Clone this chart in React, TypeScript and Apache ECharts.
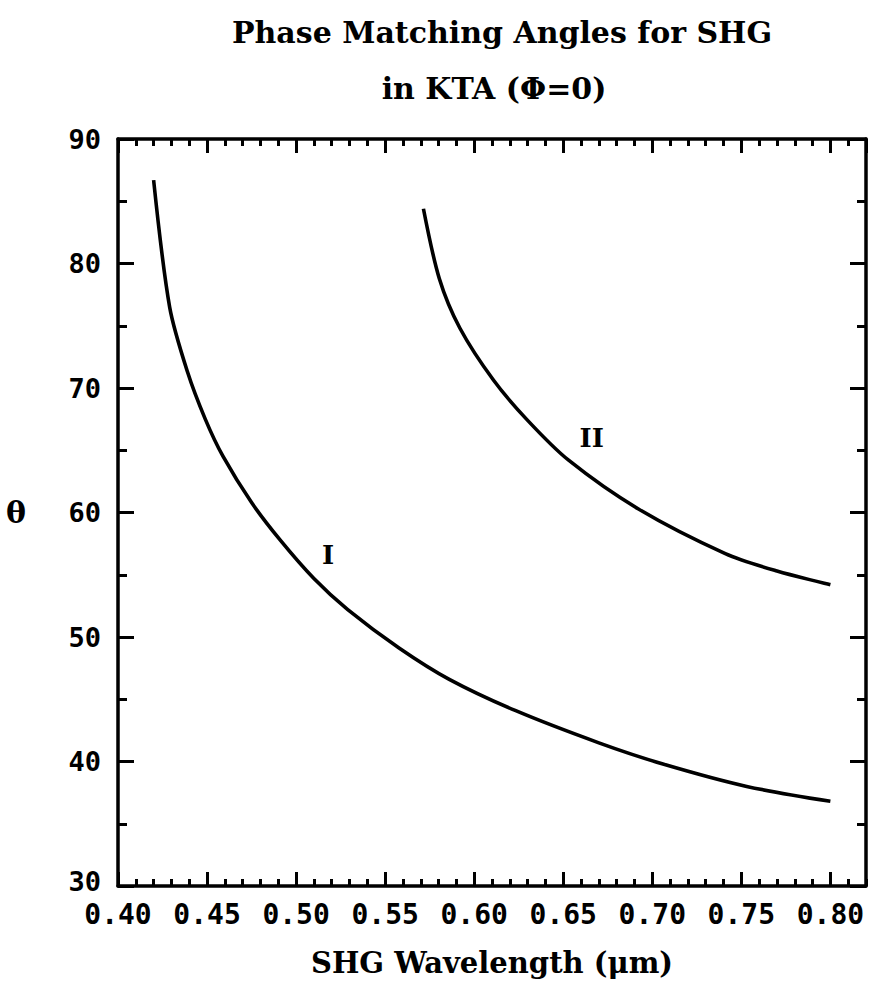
import React, { useEffect, useRef } from "react";
import * as echarts from "echarts";

// Type I phase-matching curve: SHG wavelength (µm) vs θ (deg)
const wavelengthI = [0.420, 0.429, 0.439, 0.449, 0.459, 0.475, 0.491, 0.510, 0.529, 0.558, 0.586, 0.623, 0.670, 0.706, 0.753, 0.800];
const thetaI = [86.7, 76.5, 71.3, 67.5, 64.5, 60.8, 57.8, 54.7, 52.2, 49.1, 46.6, 44.1, 41.5, 39.8, 38.0, 36.8];

// Type II phase-matching curve
const wavelengthII = [0.5715, 0.5804, 0.592, 0.611, 0.630, 0.653, 0.692, 0.741, 0.770, 0.800];
const thetaII = [84.4, 78.8, 74.8, 70.6, 67.4, 64.2, 60.3, 56.7, 55.3, 54.2];

// Curve tags placed beside each curve
const curveTags = ["I", "II"];
const tagWavelength = [0.518, 0.666];
const tagTheta = [56.6, 66.0];

const xMin = 0.4;
const xMax = 0.82;
const yMin = 30;
const yMax = 90;

const titleLines = ["Phase Matching Angles for SHG", "in KTA (\u03A6=0)"];
const xName = "SHG Wavelength (\u03BCm)";
const yName = "\u03B8";

const tickFont = "'DejaVu Sans Mono', monospace";
const serifFont = "'DejaVu Serif', serif";

export default function App() {
  const ref = useRef<HTMLDivElement>(null);

  useEffect(() => {
    if (!ref.current) return;
    const chart = echarts.init(ref.current, undefined, { renderer: "svg" });

    const axisLine = { show: true, onZero: false, lineStyle: { color: "#000", width: 3.5 } };
    const majorX = (pos: "top" | "bottom", labels: boolean) => ({
      type: "value",
      position: pos,
      min: xMin,
      max: xMax,
      interval: 0.05,
      axisLine,
      splitLine: { show: false },
      axisTick: { show: true, inside: true, length: 14, lineStyle: { color: "#000", width: 3 } },
      axisLabel: labels
        ? {
            show: true,
            showMaxLabel: false,
            margin: 14,
            color: "#000",
            fontFamily: tickFont,
            fontWeight: "bold",
            fontSize: 28,
            formatter: (v: number) => v.toFixed(2),
          }
        : { show: false },
      ...(labels
        ? {
            name: xName,
            nameLocation: "middle",
            nameGap: 62,
            nameTextStyle: { color: "#000", fontFamily: serifFont, fontWeight: "bold", fontSize: 29 },
          }
        : {}),
    });
    const minorX = (pos: "top" | "bottom") => ({
      type: "value",
      position: pos,
      min: xMin,
      max: xMax,
      interval: 0.01,
      axisLine: { show: false, onZero: false },
      splitLine: { show: false },
      axisTick: { show: true, inside: true, length: 7, lineStyle: { color: "#000", width: 3 } },
      axisLabel: { show: false },
    });
    const labelText = { color: "#000", fontFamily: tickFont, fontWeight: "bold", fontSize: 27 };
    const yAx = (pos: "left" | "right", labels: boolean) => ({
      type: "value",
      position: pos,
      min: yMin,
      max: yMax,
      interval: 10,
      axisLine,
      splitLine: { show: false },
      axisTick: { show: true, inside: true, length: 16, lineStyle: { color: "#000", width: 3 } },
      minorTick: { show: true, splitNumber: 2, length: 9, lineStyle: { color: "#000", width: 3 } },
      axisLabel: labels
        ? {
            show: true,
            margin: 17,
            ...labelText,
            // the bottom label sits a little above the corner
            formatter: (v: number) => (v === yMin ? `{low|${v}}` : `${v}`),
            rich: { low: { ...labelText, padding: [0, 0, 10, 0] } },
          }
        : { show: false },
      ...(labels
        ? {
            name: yName,
            nameLocation: "middle",
            nameRotate: 0,
            nameGap: 92,
            nameTextStyle: { color: "#000", fontFamily: serifFont, fontWeight: "bold", fontSize: 30 },
          }
        : {}),
    });

    const lineStyle = { color: "#000", width: 3.6 };

    chart.setOption({
      animation: false,
      backgroundColor: "#fff",
      grid: { left: 118, right: 5, top: 139, bottom: 108, containLabel: false },
      xAxis: [majorX("bottom", true), minorX("bottom"), majorX("top", false), minorX("top")],
      yAxis: [yAx("left", true), yAx("right", false)],
      graphic: [
        {
          type: "text",
          x: 502,
          y: 32,
          style: {
            text: titleLines[0],
            textAlign: "center",
            textVerticalAlign: "middle",
            fill: "#000",
            font: `bold 30px ${serifFont}`,
          },
        },
        {
          type: "text",
          x: 494,
          y: 88,
          style: {
            text: titleLines[1],
            textAlign: "center",
            textVerticalAlign: "middle",
            fill: "#000",
            font: `bold 30px ${serifFont}`,
          },
        },
      ],
      series: [
        {
          name: "I",
          type: "line",
          xAxisIndex: 0,
          yAxisIndex: 0,
          data: wavelengthI.map((w, i) => [w, thetaI[i]]),
          symbol: "none",
          smooth: 0.3,
          lineStyle,
        },
        {
          name: "II",
          type: "line",
          xAxisIndex: 0,
          yAxisIndex: 0,
          data: wavelengthII.map((w, i) => [w, thetaII[i]]),
          symbol: "none",
          smooth: 0.3,
          lineStyle,
        },
        {
          name: "tags",
          type: "scatter",
          xAxisIndex: 0,
          yAxisIndex: 0,
          symbolSize: 1,
          itemStyle: { color: "rgba(0,0,0,0)", opacity: 1 },
          data: curveTags.map((t, i) => ({ value: [tagWavelength[i], tagTheta[i]], name: t })),
          label: {
            show: true,
            position: "inside",
            formatter: (p: any) => p.name,
            color: "#000",
            textBorderWidth: 0,
            fontFamily: serifFont,
            fontWeight: "bold",
            fontSize: 26,
          },
        },
      ],
    });

    return () => chart.dispose();
  }, []);

  return (
    <div
      ref={ref}
      style={{ position: "fixed", left: 0, top: 0, width: 871, height: 994, background: "#fff" }}
    />
  );
}
